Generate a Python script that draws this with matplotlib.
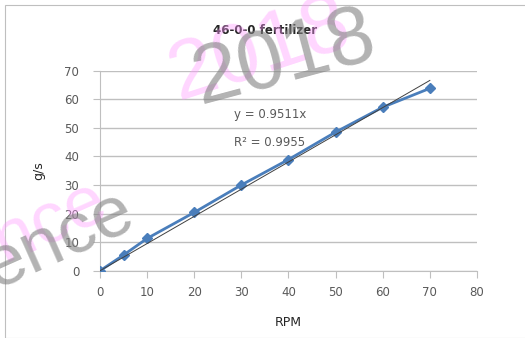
import numpy as np
import matplotlib.pyplot as plt
from matplotlib.patches import Rectangle

rpm = [0, 5, 10, 20, 30, 40, 50, 60, 70]
flow = [0, 5.5, 11.3, 20.4, 30.0, 38.9, 48.5, 57.2, 63.8]
slope = 0.9511
r2 = 0.9955

fig = plt.figure(figsize=(5.25, 3.38), dpi=100)
ax = fig.add_axes([0.1905, 0.199, 0.718, 0.592])

# chart border (Excel style)
fig.patches.append(Rectangle((0.01, 0.0), 1.2, 0.985, transform=fig.transFigure,
                             fill=False, ec='#bfbfbf', lw=0.8))

ax.set_facecolor('none')
ax.plot(rpm, flow, color='#4a7ebb', lw=2, marker='D', ms=5, zorder=3)
xt = np.array([0, 70])
ax.plot(xt, slope * xt, color='#404040', lw=0.7, zorder=4)

ax.set_xlim(0, 80)
ax.set_ylim(0, 70)
ax.set_xticks(range(0, 81, 10))
ax.set_yticks(range(0, 71, 10))
ax.grid(axis='y', color='#bfbfbf', lw=1)
ax.set_axisbelow(True)
for s in ['top', 'right']:
    ax.spines[s].set_visible(False)
for s in ['left', 'bottom']:
    ax.spines[s].set_color('#bfbfbf')
ax.tick_params(axis='x', colors='#bfbfbf', length=5, labelcolor='#595959', labelsize=8.5, pad=6)
ax.tick_params(axis='y', colors='#bfbfbf', length=5, labelcolor='#595959', labelsize=8.5, pad=10)

fig.text(265 / 525, 1 - 30 / 338, '46-0-0 fertilizer', fontsize=8.5, fontweight='bold',
         color='#262626', ha='center', va='center')
ax.set_xlabel('RPM', fontsize=9, color='#262626', labelpad=12)
ax.set_ylabel('g/s', fontsize=9, color='#262626', labelpad=14)

ax.text(28.5, 54.5, f'y = {slope}x', fontsize=8.5, color='#595959', va='center')
ax.text(28.5, 45, f'R² = {r2}', fontsize=8.5, color='#595959', va='center')

# watermark over the chart
wm = dict(family='Liberation Sans', rotation_mode='anchor',
          ha='left', va='baseline', zorder=10)
fig.text(178 / 525, 1 - 100 / 338, '2018', fontsize=60, rotation=18,
         color='#ff99ff', alpha=0.4, **wm)
fig.text(200 / 525, 1 - 104 / 338, '2018', fontsize=60, rotation=15,
         color='#808080', alpha=0.6, **wm)
fig.text(-31 / 525, 1 - 280 / 338, 'ence', fontsize=52, rotation=24,
         color='#ff99ff', alpha=0.4, **wm)
fig.text(-4 / 525, 1 - 290 / 338, 'ence', fontsize=52, rotation=24,
         color='#808080', alpha=0.6, **wm)

fig.savefig('out.png', dpi=100)
